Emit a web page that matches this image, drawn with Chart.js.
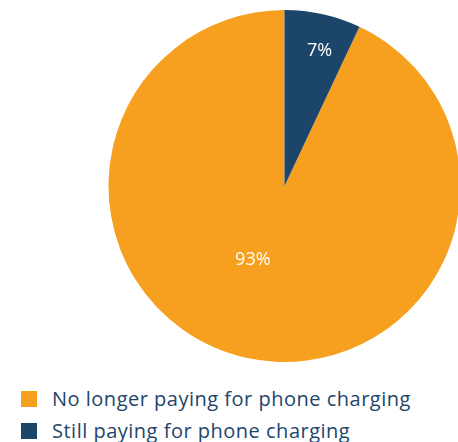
<!DOCTYPE html>
<html>
<head>
<meta charset="utf-8">
<script src="https://cdn.jsdelivr.net/npm/chart.js@4/dist/chart.umd.min.js"></script>
<style>
  html, body { margin: 0; padding: 0; width: 458px; height: 442px; overflow: hidden; background: #fff; }
  #pieBox { position: absolute; left: 108px; top: 10px; width: 353px; height: 352px; }
  #legend { position: absolute; left: 21px; top: 388px; font-family: "Open Sans", sans-serif; font-size: 20px; letter-spacing: 0.5px; color: #22466a; }
  .item { position: relative; height: 32px; line-height: 22px; padding-left: 31px; white-space: nowrap; }
  .item span { position: absolute; left: 0; top: 3px; width: 16px; height: 16px; }
</style>
</head>
<body>
<div id="pieBox"><canvas id="pie"></canvas></div>
<div id="legend"></div>
<script>
// Доли ответов
const categories = ['No longer paying for phone charging', 'Still paying for phone charging'];
const values = [93, 7];
const valueLabels = ['93%', '7%'];
const colors = ['#f79f1f', '#1b4569'];

// Сдвиг подписей внутри секторов (доля радиуса и поправка в пикселях)
const labelRadius = [0.46, 0.785];
const labelNudge = [[-14, -5], [5, 0]];

const total = values.reduce((a, b) => a + b, 0);
// Синий сектор начинается сверху, оранжевый идёт за ним
const rotation = values[1] / total * 360;

// Подписи значений внутри секторов
const sliceLabels = {
    id: 'sliceLabels',
    afterDatasetsDraw(chart) {
        const ctx = chart.ctx;
        const meta = chart.getDatasetMeta(0);
        ctx.save();
        ctx.fillStyle = '#ffffff';
        ctx.font = '18px "Open Sans", sans-serif';
        ctx.textAlign = 'center';
        ctx.textBaseline = 'middle';
        meta.data.forEach((arc, i) => {
            const p = arc.getProps(['x', 'y', 'startAngle', 'endAngle', 'outerRadius']);
            const mid = (p.startAngle + p.endAngle) / 2;
            const r = p.outerRadius * labelRadius[i];
            const x = p.x + Math.cos(mid) * r + labelNudge[i][0];
            const y = p.y + Math.sin(mid) * r + labelNudge[i][1];
            ctx.fillText(valueLabels[i], x, y);
        });
        ctx.restore();
    }
};

new Chart(document.getElementById('pie'), {
    type: 'pie',
    data: {
        labels: categories,
        datasets: [{
            data: values,
            backgroundColor: colors,
            borderWidth: 0,
            hoverOffset: 0
        }]
    },
    options: {
        responsive: true,
        maintainAspectRatio: false,
        animation: false,
        rotation: rotation,
        layout: { padding: 0 },
        plugins: {
            legend: { display: false },
            tooltip: { enabled: false }
        }
    },
    plugins: [sliceLabels]
});

// Легенда под диаграммой
const legend = document.getElementById('legend');
categories.forEach((name, i) => {
    const row = document.createElement('div');
    row.className = 'item';
    row.innerHTML = '<span style="background:' + colors[i] + '"></span>' + name;
    legend.appendChild(row);
});
</script>
</body>
</html>
